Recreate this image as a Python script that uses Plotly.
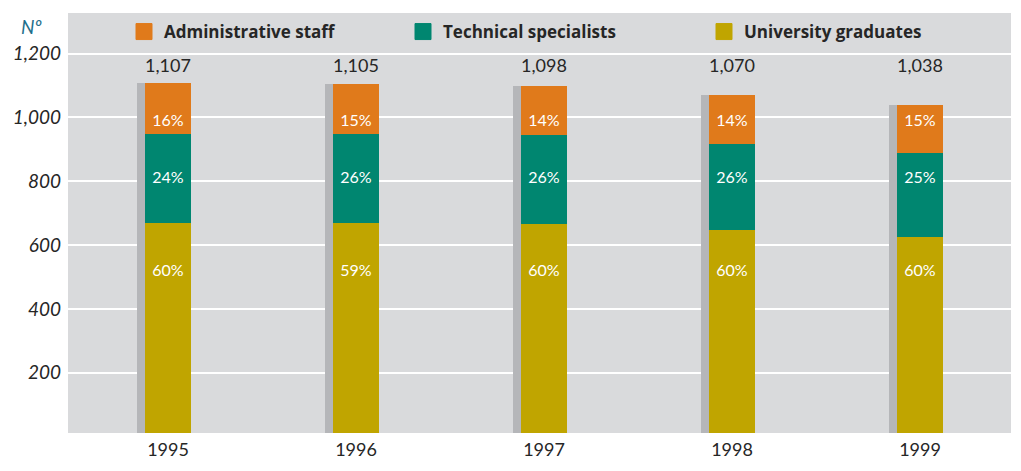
import plotly.graph_objects as go

years = ["1995", "1996", "1997", "1998", "1999"]
totals = [1107, 1105, 1098, 1070, 1038]
university = [669, 669, 666, 647, 625]
technical = [279, 279, 278, 270, 263]
administrative = [159, 157, 154, 153, 150]
pct_university = ["60%", "59%", "60%", "60%", "60%"]
pct_technical = ["24%", "26%", "26%", "26%", "25%"]
pct_administrative = ["16%", "15%", "14%", "14%", "15%"]
series_names = ["Administrative staff", "Technical specialists", "University graduates"]
ytick_vals = [200, 400, 600, 800, 1000, 1200]

C_ADMIN = "#e07a1b"
C_TECH = "#008670"
C_UNIV = "#c0a500"
C_SHADOW = "#b5b6b9"
C_BG = "#d9dadc"
C_TEXT = "#262626"
FONT = "Lato"

W, H = 1021, 471
ML, MR, MT, MB = 68, 10, 13, 38
PW, PH = W - ML - MR, H - MT - MB

BAR_W = 0.245
SH_OFF = -0.165
SH_W = 0.287

# fixed label levels (y data units)
Y_ADMIN_LBL = 985
Y_TECH_LBL = 806
Y_UNIV_LBL = 515
Y_TOTAL_LBL = 1156

base_tech = [u for u in university]
base_admin = [u + t for u, t in zip(university, technical)]

fig = go.Figure()

fig.add_trace(go.Bar(x=years, y=totals, width=SH_W, offset=SH_OFF,
                     marker=dict(color=C_SHADOW, line=dict(width=0)),
                     showlegend=False, hoverinfo="skip"))
fig.add_trace(go.Bar(x=years, y=university, base=[0]*5, width=BAR_W, offset=-BAR_W/2,
                     marker=dict(color=C_UNIV, line=dict(width=0)),
                     name=series_names[2], showlegend=False))
fig.add_trace(go.Bar(x=years, y=technical, base=base_tech, width=BAR_W, offset=-BAR_W/2,
                     marker=dict(color=C_TECH, line=dict(width=0)),
                     name=series_names[1], showlegend=False))
fig.add_trace(go.Bar(x=years, y=administrative, base=base_admin, width=BAR_W, offset=-BAR_W/2,
                     marker=dict(color=C_ADMIN, line=dict(width=0)),
                     name=series_names[0], showlegend=False))

lbl_font = dict(family=FONT, size=16, color="white")
for texts, ylev in [(pct_university, Y_UNIV_LBL), (pct_technical, Y_TECH_LBL),
                    (pct_administrative, Y_ADMIN_LBL)]:
    fig.add_trace(go.Scatter(x=years, y=[ylev]*5, mode="text", text=texts,
                             textfont=lbl_font, showlegend=False, hoverinfo="skip"))

fig.add_trace(go.Scatter(x=years, y=[Y_TOTAL_LBL]*5, mode="text",
                         text=[f"{t:,}" for t in totals],
                         textfont=dict(family=FONT, size=18, color=C_TEXT),
                         showlegend=False, hoverinfo="skip"))

# legend proxies
legend_px = [124, 403, 704]
colors = [C_ADMIN, C_TECH, C_UNIV]
for i, (nm, col) in enumerate(zip(series_names, colors)):
    lg = "legend" if i == 0 else f"legend{i+1}"
    fig.add_trace(go.Scatter(x=[None], y=[None], mode="markers", name=nm,
                             marker=dict(symbol="square", size=16, color=col,
                                         line=dict(width=1, color=col)),
                             legend=lg, showlegend=True))

def px_to_paper_x(px):
    return (px - ML) / PW

def px_to_paper_y(py):
    return (H - MB - py) / PH

leg_common = dict(orientation="h", bgcolor="rgba(0,0,0,0)", borderwidth=0,
                  itemsizing="trace", yanchor="middle", xanchor="left",
                  font=dict(family="Open Sans", size=17, color=C_TEXT, weight="bold"))
lay_legends = {}
for i, px in enumerate(legend_px):
    key = "legend" if i == 0 else f"legend{i+1}"
    lay_legends[key] = dict(x=px_to_paper_x(px), y=px_to_paper_y(32), **leg_common)

fig.update_layout(
    width=W, height=H,
    margin=dict(l=ML, r=MR, t=MT, b=MB, pad=0),
    paper_bgcolor="white", plot_bgcolor=C_BG,
    barmode="overlay", bargap=0,
    xaxis=dict(type="category", range=[-0.532, 4.484], showgrid=False, zeroline=False,
               showline=False, ticks="", automargin=False, ticklabelstandoff=4,
               tickfont=dict(family=FONT, size=18, color=C_TEXT)),
    yaxis=dict(range=[11, 1327], tickvals=ytick_vals, tickformat=",",
               showgrid=True, gridcolor="white", gridwidth=2, zeroline=False,
               showline=False, ticks="", ticklabelstandoff=6, automargin=False,
               tickfont=dict(family=FONT, size=19, color=C_TEXT, style="italic")),
    annotations=[dict(text="Nº", xref="paper", yref="paper",
                      xanchor="center", yanchor="middle",
                      x=px_to_paper_x(31), y=px_to_paper_y(26), showarrow=False,
                      font=dict(family=FONT, size=19, color="#1f6f8b", style="italic"))],
    **lay_legends,
)

fig.write_html("out.html", config={"displayModeBar": False},
               post_script="document.body.style.margin='0';")
